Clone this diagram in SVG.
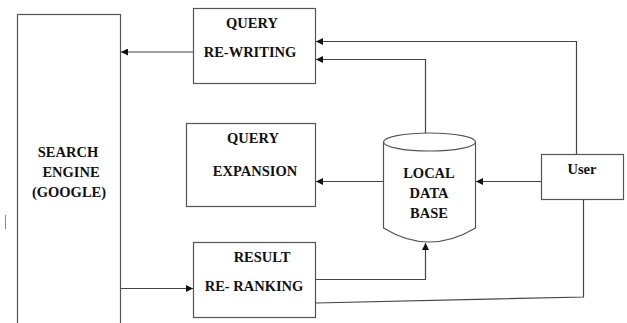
<svg xmlns="http://www.w3.org/2000/svg" width="627" height="323" viewBox="0 0 627 323">
  <style>
    .box { fill: #fff; stroke: #555; stroke-width: 1.2; }
    .wire { fill: none; stroke: #444; stroke-width: 1.2; }
    .lbl { font-family: "Liberation Serif", "Times New Roman", serif; font-weight: bold; font-size: 14.5px; fill: #111; text-anchor: middle; }
  </style>
  <defs>
    <marker id="arrow" viewBox="0 0 10 10" refX="10" refY="5" markerWidth="7" markerHeight="7" markerUnits="userSpaceOnUse" orient="auto">
      <path d="M0,0 L10,5 L0,10 Z" fill="#111"/>
    </marker>
  </defs>
  <rect width="627" height="323" fill="#fff"/>

  <!-- stray tick at left margin -->
  <line x1="5.5" y1="215" x2="5.5" y2="229" stroke="#888" stroke-width="1"/>

  <g id="search-engine">
    <rect class="box" x="17.5" y="14.5" width="103" height="320"/>
    <text class="lbl" x="68" y="157">SEARCH</text>
    <text class="lbl" x="71" y="177">ENGINE</text>
    <text class="lbl" x="69" y="197">(GOOGLE)</text>
  </g>

  <g id="query-rewriting">
    <rect class="box" x="193.5" y="8.5" width="122" height="75"/>
    <text class="lbl" x="252" y="28">QUERY</text>
    <text class="lbl" x="250" y="57">RE-WRITING</text>
  </g>

  <g id="query-expansion">
    <rect class="box" x="186.5" y="123.5" width="129" height="83"/>
    <text class="lbl" x="253" y="143">QUERY</text>
    <text class="lbl" x="255" y="176">EXPANSION</text>
  </g>

  <g id="result-reranking">
    <rect class="box" x="193.5" y="242.5" width="122" height="75"/>
    <text class="lbl" x="262" y="262">RESULT</text>
    <text class="lbl" x="254" y="291">RE- RANKING</text>
  </g>

  <g id="local-database">
    <path class="box" d="M383.5,142 L383.5,228 Q429,256 475.5,228 L475.5,142"/>
    <ellipse class="box" cx="429.5" cy="142" rx="46" ry="9"/>
    <text class="lbl" x="429" y="178">LOCAL</text>
    <text class="lbl" x="429" y="198">DATA</text>
    <text class="lbl" x="429" y="218">BASE</text>
  </g>

  <g id="user">
    <rect class="box" x="541.5" y="154.5" width="82" height="45"/>
    <text class="lbl" x="582" y="174">User</text>
  </g>

  <g id="connectors">
    <line class="wire" x1="193" y1="52" x2="121" y2="52" marker-end="url(#arrow)"/>
    <line class="wire" x1="121" y1="288.5" x2="193" y2="288.5" marker-end="url(#arrow)"/>
    <polyline class="wire" points="576.5,154 576.5,41.5 316,41.5" marker-end="url(#arrow)"/>
    <polyline class="wire" points="425.5,133 425.5,59.5 316,59.5" marker-end="url(#arrow)"/>
    <line class="wire" x1="383" y1="181.5" x2="316" y2="181.5" marker-end="url(#arrow)"/>
    <line class="wire" x1="541" y1="181.5" x2="476" y2="181.5" marker-end="url(#arrow)"/>
    <polyline class="wire" points="316,279.5 425.5,279.5 425.5,243" marker-end="url(#arrow)"/>
    <polyline class="wire" points="316,303 583.5,297 583.5,200"/>
  </g>
</svg>
